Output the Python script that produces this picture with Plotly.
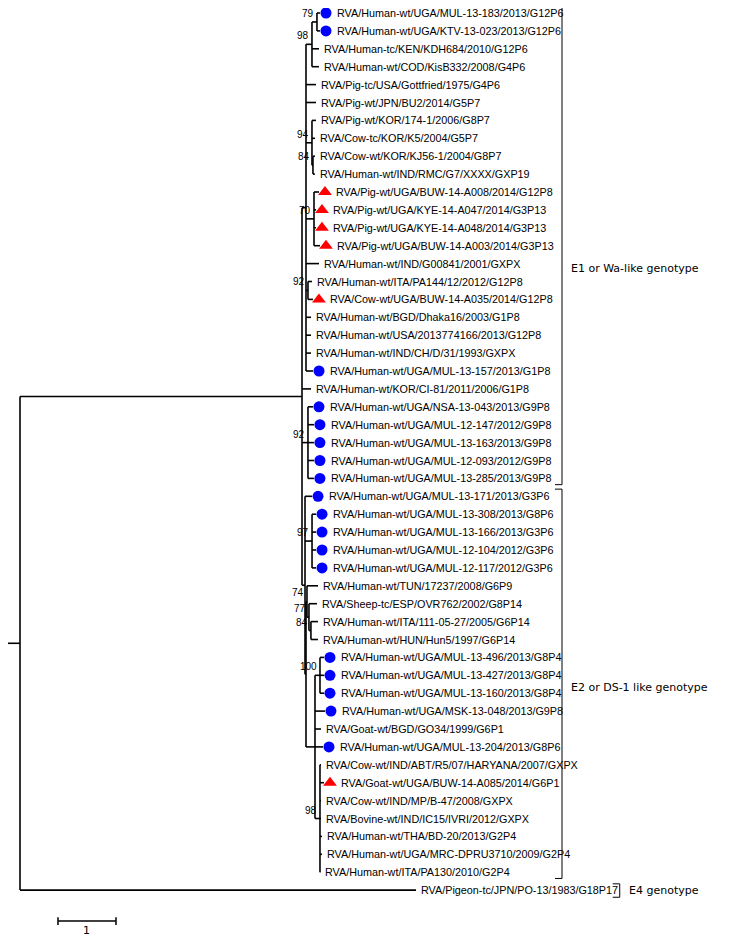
import plotly.graph_objects as go

# Tip names, top to bottom
tip_labels = [
    "RVA/Human-wt/UGA/MUL-13-183/2013/G12P6",
    "RVA/Human-wt/UGA/KTV-13-023/2013/G12P6",
    "RVA/Human-tc/KEN/KDH684/2010/G12P6",
    "RVA/Human-wt/COD/KisB332/2008/G4P6",
    "RVA/Pig-tc/USA/Gottfried/1975/G4P6",
    "RVA/Pig-wt/JPN/BU2/2014/G5P7",
    "RVA/Pig-wt/KOR/174-1/2006/G8P7",
    "RVA/Cow-tc/KOR/K5/2004/G5P7",
    "RVA/Cow-wt/KOR/KJ56-1/2004/G8P7",
    "RVA/Human-wt/IND/RMC/G7/XXXX/GXP19",
    "RVA/Pig-wt/UGA/BUW-14-A008/2014/G12P8",
    "RVA/Pig-wt/UGA/KYE-14-A047/2014/G3P13",
    "RVA/Pig-wt/UGA/KYE-14-A048/2014/G3P13",
    "RVA/Pig-wt/UGA/BUW-14-A003/2014/G3P13",
    "RVA/Human-wt/IND/G00841/2001/GXPX",
    "RVA/Human-wt/ITA/PA144/12/2012/G12P8",
    "RVA/Cow-wt/UGA/BUW-14-A035/2014/G12P8",
    "RVA/Human-wt/BGD/Dhaka16/2003/G1P8",
    "RVA/Human-wt/USA/2013774166/2013/G12P8",
    "RVA/Human-wt/IND/CH/D/31/1993/GXPX",
    "RVA/Human-wt/UGA/MUL-13-157/2013/G1P8",
    "RVA/Human-wt/KOR/CI-81/2011/2006/G1P8",
    "RVA/Human-wt/UGA/NSA-13-043/2013/G9P8",
    "RVA/Human-wt/UGA/MUL-12-147/2012/G9P8",
    "RVA/Human-wt/UGA/MUL-13-163/2013/G9P8",
    "RVA/Human-wt/UGA/MUL-12-093/2012/G9P8",
    "RVA/Human-wt/UGA/MUL-13-285/2013/G9P8",
    "RVA/Human-wt/UGA/MUL-13-171/2013/G3P6",
    "RVA/Human-wt/UGA/MUL-13-308/2013/G8P6",
    "RVA/Human-wt/UGA/MUL-13-166/2013/G3P6",
    "RVA/Human-wt/UGA/MUL-12-104/2012/G3P6",
    "RVA/Human-wt/UGA/MUL-12-117/2012/G3P6",
    "RVA/Human-wt/TUN/17237/2008/G6P9",
    "RVA/Sheep-tc/ESP/OVR762/2002/G8P14",
    "RVA/Human-wt/ITA/111-05-27/2005/G6P14",
    "RVA/Human-wt/HUN/Hun5/1997/G6P14",
    "RVA/Human-wt/UGA/MUL-13-496/2013/G8P4",
    "RVA/Human-wt/UGA/MUL-13-427/2013/G8P4",
    "RVA/Human-wt/UGA/MUL-13-160/2013/G8P4",
    "RVA/Human-wt/UGA/MSK-13-048/2013/G9P8",
    "RVA/Goat-wt/BGD/GO34/1999/G6P1",
    "RVA/Human-wt/UGA/MUL-13-204/2013/G8P6",
    "RVA/Cow-wt/IND/ABT/R5/07/HARYANA/2007/GXPX",
    "RVA/Goat-wt/UGA/BUW-14-A085/2014/G6P1",
    "RVA/Cow-wt/IND/MP/B-47/2008/GXPX",
    "RVA/Bovine-wt/IND/IC15/IVRI/2012/GXPX",
    "RVA/Human-wt/THA/BD-20/2013/G2P4",
    "RVA/Human-wt/UGA/MRC-DPRU3710/2009/G2P4",
    "RVA/Human-wt/ITA/PA130/2010/G2P4",
    "RVA/Pigeon-tc/JPN/PO-13/1983/G18P17",
]

# Ugandan strains from this study: humans (blue dot), animals (red triangle)
blue_rows = [0, 1, 20, 22, 23, 24, 25, 26, 27, 28, 29, 30, 31, 36, 37, 38, 39, 41]
red_rows = [10, 11, 12, 13, 16, 43]

# Tree: tips referenced by row index, internal labels are bootstrap values
newick = (
    "(((((0:0.052,1:0.052)79:0.086,2:0.121,3:0.121)98:0.103,4:0.172,5:0.172,"
    "(6:0.069,7:0.052,(8:0.034,9:0.034)84:0.017)94:0.103,"
    "(10:0.086,11:0.034,12:0.034,13:0.103)70:0.138,14:0.224,"
    "(15:0.069,16:0.086)92:0.034,17:0.086,18:0.086,19:0.086,20:0.121):0.069,"
    "21:0.155,"
    "(22:0.086,23:0.103,24:0.103,25:0.103,26:0.103)92:0.103,"
    "(27:0.121,(28:0.069,29:0.069,30:0.069,31:0.069)97:0.121,"
    "((32:0.190,(33:0.138,(34:0.121,35:0.121)84:0.034)77:0.034)74:0.017,"
    "((36:0.069,37:0.069,38:0.069)100:0.086,39:0.172,40:0.103,41:0.138,"
    "(42:0.017,43:0.069,44:0.017,45:0.017,46:0.034,47:0.034,48:0.005)98:0.086):0.155)"
    ":0.017):0.052):4.862,49:6.828);"
)

# Genotype brackets: (label, first row, last row, label row)
groups = [
    ("E1 or Wa-like genotype", 0, 26, 14.25),
    ("E2 or DS-1 like genotype", 27, 48, 37.7),
    ("E4 genotype", 49, 49, 49.05),
]


def parse(s):
    pos = 0

    def node():
        nonlocal pos
        kids = []
        if s[pos] == "(":
            pos += 1
            while True:
                kids.append(node())
                if s[pos] == ",":
                    pos += 1
                    continue
                pos += 1
                break
        start = pos
        while s[pos] not in ":,);":
            pos += 1
        label = s[start:pos]
        length = 0.0
        if s[pos] == ":":
            pos += 1
            start = pos
            while s[pos] not in ",);":
                pos += 1
            length = float(s[start:pos])
        return {"kids": kids, "label": label, "len": length}

    return node()


tree = parse(newick)


def layout(n, x0):
    n["x"] = x0 + n["len"]
    if n["kids"]:
        for k in n["kids"]:
            layout(k, n["x"])
        n["y"] = (n["kids"][0]["y"] + n["kids"][-1]["y"]) / 2
    else:
        n["y"] = int(n["label"])


tree["len"] = 0.0
layout(tree, 0.0)

lx, ly = [], []
tips, inner = [], []


def walk(n, parent_x):
    lx.extend([parent_x, n["x"], None])
    ly.extend([n["y"], n["y"], None])
    if n["kids"]:
        lx.extend([n["x"], n["x"], None])
        ly.extend([n["kids"][0]["y"], n["kids"][-1]["y"], None])
        inner.append(n)
        for k in n["kids"]:
            walk(k, n["x"])
    else:
        tips.append(n)


px = 1 / 58.0  # one screen pixel in branch length units (scale bar 1 = 58 px)
walk(tree, -12 * px)  # root stub

fig = go.Figure()
fig.add_trace(go.Scatter(x=lx, y=ly, mode="lines",
                         line=dict(color="black", width=1.6), hoverinfo="skip"))

blue = [t for t in tips if t["y"] in blue_rows]
red = [t for t in tips if t["y"] in red_rows]
fig.add_trace(go.Scatter(x=[t["x"] + 6 * px for t in blue], y=[t["y"] for t in blue],
                         mode="markers", marker=dict(color="#0000ff", size=11, symbol="circle")))
fig.add_trace(go.Scatter(x=[t["x"] + 6 * px for t in red], y=[t["y"] for t in red],
                         mode="markers", marker=dict(color="#ff0000", size=12, symbol="triangle-up")))

for t in tips:
    i = t["y"]
    marked = i in blue_rows or i in red_rows
    fig.add_annotation(x=t["x"], y=i, text=tip_labels[i], showarrow=False,
                       xanchor="left", yanchor="middle",
                       xshift=15 if marked else 3,
                       font=dict(family="Liberation Sans, Arial", size=10.8, color="black"))

for n in inner:
    if n["label"]:
        fig.add_annotation(x=n["x"], y=n["y"], text=n["label"], showarrow=False,
                           xanchor="right", yanchor="bottom", xshift=-1, yshift=1,
                           font=dict(family="Liberation Sans, Arial", size=10, color="black"))

# genotype brackets
bx, by = [], []
for name, a, b, ly_ in groups:
    if a == b:
        xb = 10.34
        top, bot = a - 0.35, b + 0.4
    else:
        xb = 9.345
        top, bot = a - 0.4, b + 0.35
    bx.extend([xb - 7 * px, xb, xb, xb - 7 * px, None])
    by.extend([top, top, bot, bot, None])
    fig.add_annotation(x=xb, y=ly_, text=name,
                       showarrow=False, xanchor="left", yanchor="middle", xshift=7,
                       font=dict(family="DejaVu Sans", size=11, color="black"))
fig.add_trace(go.Scatter(x=bx, y=by, mode="lines",
                         line=dict(color="black", width=1), hoverinfo="skip"))

# scale bar
sb0, sb_len, sb_y = 0.655, 1, 50.73
fig.add_trace(go.Scatter(x=[sb0, sb0 + sb_len, None, sb0, sb0, None, sb0 + sb_len, sb0 + sb_len],
                         y=[sb_y, sb_y, None, sb_y - 0.22, sb_y + 0.22, None, sb_y - 0.22, sb_y + 0.22],
                         mode="lines", line=dict(color="black", width=1.5), hoverinfo="skip"))
fig.add_annotation(x=sb0 + sb_len / 2, y=sb_y, text=str(sb_len), showarrow=False,
                   yanchor="top", yshift=-1,
                   font=dict(family="DejaVu Sans", size=11, color="black"))

# page body has an 8 px margin: figure pixel = page pixel - 8
row_px = 17.9
fig.update_layout(
    width=725, height=928,
    margin=dict(l=0, r=0, t=0, b=0),
    paper_bgcolor="white", plot_bgcolor="white",
    showlegend=False,
    xaxis=dict(range=[-12 * px, 713 * px], visible=False, fixedrange=True),
    yaxis=dict(range=[(928 - 5) / row_px, -5 / row_px], visible=False, fixedrange=True),
)

fig.write_html("out.html")
